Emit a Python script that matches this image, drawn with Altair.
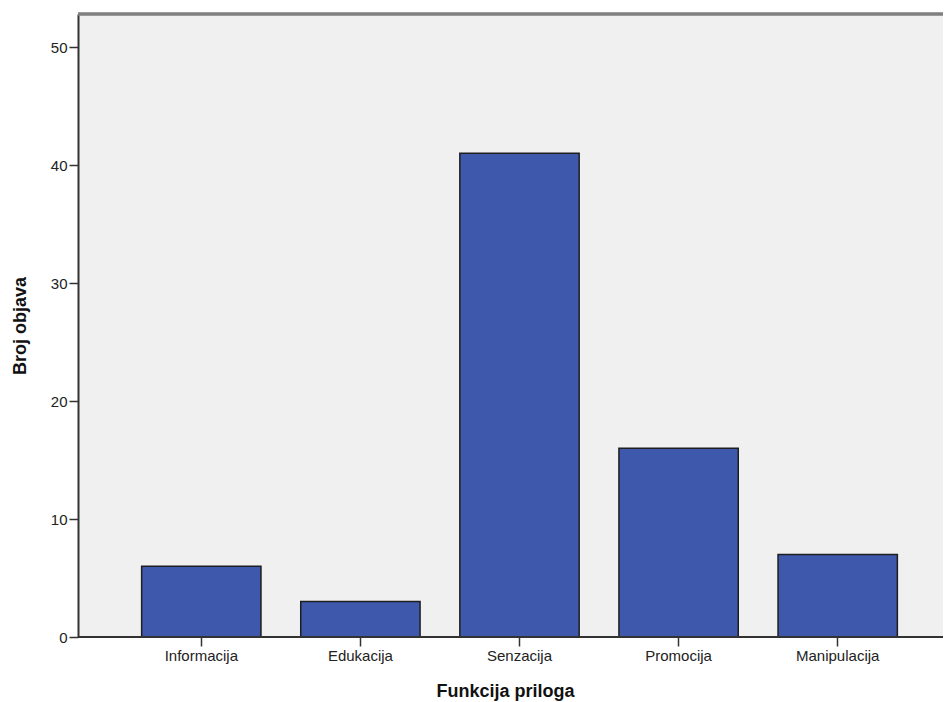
import altair as alt
import pandas as pd

categories = ["Informacija", "Edukacija", "Senzacija", "Promocija", "Manipulacija"]
counts = [6, 3, 41, 16, 7]

df = pd.DataFrame({"Funkcija": categories, "Broj": counts})

W = 865
H = 623

bars = alt.Chart(df).mark_bar(
    color="#3E58AC", stroke="#1e1e1e", strokeWidth=1.5
).encode(
    x=alt.X("Funkcija:N", sort=categories,
            scale=alt.Scale(paddingInner=0.25, paddingOuter=0.4, range=[0, 883]),
            axis=alt.Axis(title="Funkcija priloga", labelAngle=0, labelFontSize=15,
                          labelFont="Liberation Sans", labelColor="#222222",
                          labelPadding=2, tickSize=9, tickColor="#333333", tickWidth=1.5,
                          domain=False, titleFont="Liberation Sans", titleFontSize=18,
                          titleFontWeight="bold", titleColor="#111111",
                          titleX=427, titleY=59, titleBaseline="alphabetic",
                          titleAnchor="middle")),
    y=alt.Y("Broj:Q", scale=alt.Scale(domain=[0, 52.8], nice=False),
            axis=alt.Axis(title="Broj objava", values=[0, 10, 20, 30, 40, 50],
                          grid=False, labelFontSize=15, labelFont="Liberation Sans",
                          labelColor="#222222", tickSize=9, tickColor="#333333",
                          tickWidth=1.5, domainColor="#333333", domainWidth=2,
                          labelPadding=2, titleFont="Liberation Sans", titleFontSize=18,
                          titleFontWeight="bold", titleColor="#111111",
                          titleX=-58, titleY=H / 2, titleBaseline="middle",
                          titleAnchor="middle"))
)

baseline = alt.Chart(df).mark_rule(color="#333333", strokeWidth=1.5).encode(
    y=alt.datum(0), x=alt.value(0), x2=alt.value(W)
)

topline = alt.Chart(df).mark_rule(color="#808080", strokeWidth=2.5).encode(
    y=alt.value(0), x=alt.value(0), x2=alt.value(W)
)

chart = (bars + baseline + topline).properties(
    width=W, height=H,
    background="white",
    autosize=alt.AutoSizeParams(type="none"),
    padding={"left": 70, "top": 6, "right": 0, "bottom": 65},
).configure_view(
    fill="#F0F0F0", stroke=None
)

chart.save("out.html", embed_options={"renderer": "svg", "actions": False})
